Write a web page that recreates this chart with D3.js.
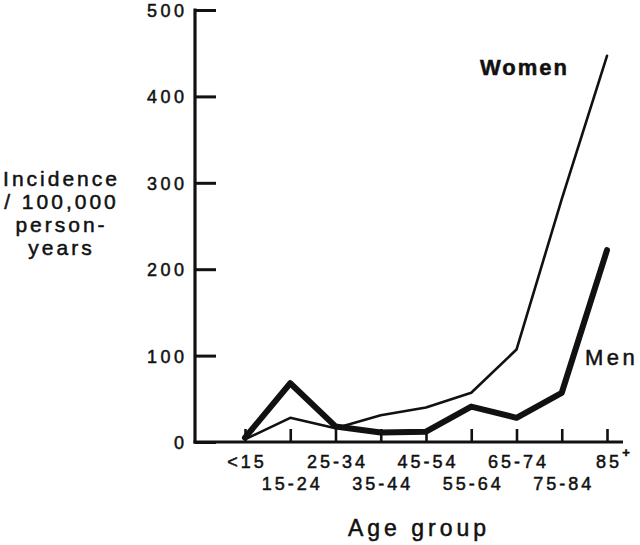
<!DOCTYPE html>
<html>
<head>
<meta charset="utf-8">
<script src="https://cdn.jsdelivr.net/npm/d3@7"></script>
<style>
  body { margin: 0; background: #fff; }
  svg text { font-family: "Liberation Sans", Arial, sans-serif; fill: #111; stroke: #111; stroke-width: 0.5px; }
</style>
</head>
<body>
<div id="chart"></div>
<script>
// age groups along the x axis
let ageGroups = ["<15", "15-24", "25-34", "35-44", "45-54", "55-64", "65-74", "75-84", "85"];
// incidence per 100,000 person-years
let menValues = [5, 68, 18, 11, 12, 41, 28, 57, 222];
let womenValues = [3, 28, 16, 31, 40, 57, 107, 281, 447];
let yTicks = [0, 100, 200, 300, 400, 500];
let yTitleLines = ["Incidence", "/ 100,000", "person-", "years"];

let svgWidth = 640;
let svgHeight = 545;

let svg = d3.select("#chart")
  .append("svg")
  .attr("width", svgWidth)
  .attr("height", svgHeight);

let xScale = d3.scalePoint()
  .domain(ageGroups)
  .range([245, 607]);

let yScale = d3.scaleLinear()
  .domain([0, 500])
  .range([442, 10]);

// y axis, ticks pointing inward
let leftAxis = d3.axisLeft(yScale)
  .tickValues(yTicks)
  .tickSizeInner(-21)
  .tickSizeOuter(0)
  .tickPadding(11);

let yAxis = svg.append("g")
  .attr("transform", "translate(195,0)")
  .call(leftAxis);

yAxis.select(".domain")
  .attr("d", `M0,${yScale(500) - 1.5}V${yScale(0) + 1.5}`)
  .attr("stroke", "#111")
  .attr("stroke-width", 3.2);
yAxis.selectAll(".tick line")
  .attr("stroke", "#111")
  .attr("stroke-width", 3);
// letter spacing adds a gap after the last glyph, so shift right by it
yAxis.selectAll(".tick text")
  .attr("font-size", 18)
  .attr("letter-spacing", "3.5px")
  .attr("x", -11 + 3.5)
  .attr("dy", "0.36em");

// x axis, ticks pointing up
let bottomAxis = d3.axisBottom(xScale)
  .tickSizeInner(-13)
  .tickSizeOuter(0)
  .tickPadding(0);

let xAxis = svg.append("g")
  .attr("transform", "translate(0,442)")
  .call(bottomAxis);

xAxis.select(".domain")
  .attr("d", "M193.5,0H623")
  .attr("stroke", "#111")
  .attr("stroke-width", 3.2);
xAxis.selectAll(".tick line")
  .attr("stroke", "#111")
  .attr("stroke-width", 2.6);
xAxis.selectAll(".tick text")
  .attr("font-size", 18)
  .attr("letter-spacing", "3px")
  .attr("x", 1.5)
  .attr("dy", null)
  .attr("y", (d, i) => i % 2 === 0 ? 26 : 48);

// the "+" after 85
xAxis.append("text")
  .attr("x", xScale("85") + 19)
  .attr("y", 15)
  .attr("font-size", 13)
  .attr("font-weight", "bold")
  .text("+");

// lines
let line = d3.line()
  .x(d => xScale(d.group))
  .y(d => yScale(d.value));

let womenData = ageGroups.map((g, i) => ({ group: g, value: womenValues[i] }));
let menData = ageGroups.map((g, i) => ({ group: g, value: menValues[i] }));

svg.append("path")
  .datum(womenData)
  .attr("d", line)
  .attr("fill", "none")
  .attr("stroke", "#111")
  .attr("stroke-width", 2.6)
  .attr("stroke-linejoin", "round")
  .attr("stroke-linecap", "round");

svg.append("path")
  .datum(menData)
  .attr("d", line)
  .attr("fill", "none")
  .attr("stroke", "#111")
  .attr("stroke-width", 6)
  .attr("stroke-linejoin", "round")
  .attr("stroke-linecap", "round");

// series labels
svg.append("text")
  .attr("x", 480)
  .attr("y", 75)
  .attr("font-size", 22)
  .attr("font-weight", "bold")
  .attr("letter-spacing", "2px")
  .text("Women");

svg.append("text")
  .attr("x", 585)
  .attr("y", 365)
  .attr("font-size", 22)
  .attr("letter-spacing", "3.5px")
  .text("Men");

// axis titles
svg.append("g")
  .selectAll("text")
  .data(yTitleLines)
  .enter()
  .append("text")
  .attr("x", 60 + 1.5)
  .attr("y", (d, i) => 186 + i * 23)
  .attr("text-anchor", "middle")
  .attr("font-size", 21)
  .attr("letter-spacing", "3px")
  .text(d => d);

svg.append("text")
  .attr("x", 417 + 2)
  .attr("y", 536)
  .attr("text-anchor", "middle")
  .attr("font-size", 23)
  .attr("letter-spacing", "4px")
  .text("Age group");
</script>
</body>
</html>
